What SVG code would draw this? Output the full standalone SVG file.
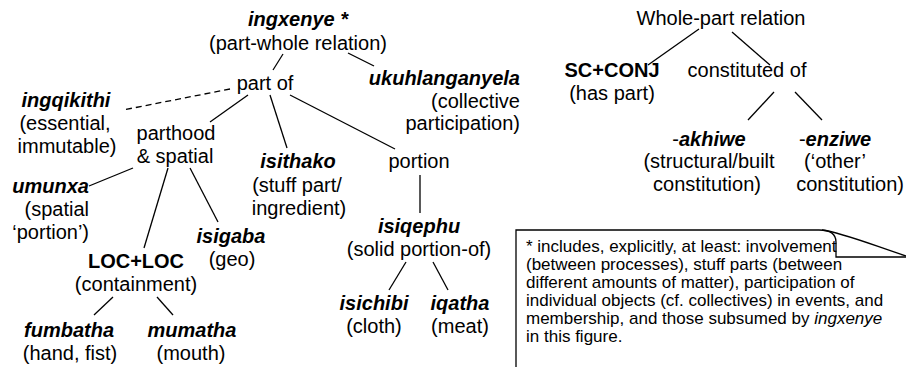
<svg xmlns="http://www.w3.org/2000/svg" width="906" height="367" viewBox="0 0 906 367">
<style>
text{font-family:"Liberation Sans",Arial,Helvetica,sans-serif;font-size:20px;fill:#000}
.c{text-anchor:middle}
.e{text-anchor:end}
.bi{font-weight:bold;font-style:italic}
.b{font-weight:bold}
.note{font-size:17px}
.ln{stroke:#000;stroke-width:1.3;fill:none}
.dash{stroke-dasharray:6 4}
</style>
<rect width="906" height="367" fill="#fff"/>
<g id="connectors">
<line class="ln" x1="283" y1="54" x2="273" y2="70"/>
<line class="ln" x1="348" y1="53" x2="374" y2="66"/>
<line class="ln dash" x1="230" y1="89" x2="123" y2="110"/>
<line class="ln" x1="248" y1="95" x2="210" y2="122"/>
<line class="ln" x1="270" y1="95" x2="287" y2="148"/>
<line class="ln" x1="290" y1="95" x2="395" y2="149"/>
<line class="ln" x1="420" y1="175" x2="420" y2="213"/>
<line class="ln" x1="133" y1="168" x2="89" y2="186"/>
<line class="ln" x1="168" y1="168" x2="144" y2="248"/>
<line class="ln" x1="190" y1="168" x2="218" y2="222"/>
<line class="ln" x1="113" y1="297" x2="94" y2="315"/>
<line class="ln" x1="157" y1="297" x2="173" y2="315"/>
<line class="ln" x1="406" y1="262" x2="389" y2="290"/>
<line class="ln" x1="433" y1="262" x2="448" y2="290"/>
<line class="ln" x1="699" y1="29" x2="648" y2="65"/>
<line class="ln" x1="732" y1="32" x2="770" y2="65"/>
<line class="ln" x1="774" y1="92" x2="748" y2="120"/>
<line class="ln" x1="795" y1="92" x2="822" y2="120"/>
</g>
<g id="ingxenye">
<text class="c bi" x="298" y="26">ingxenye *</text>
<text class="c" x="298" y="50">(part-whole relation)</text>
</g>
<g id="part-of"><text class="c" x="265" y="90">part of</text></g>
<g id="ukuhlanganyela">
<text class="e bi" x="520" y="85">ukuhlanganyela</text>
<text class="e" x="520" y="107.5">(collective</text>
<text class="e" x="520" y="130">participation)</text>
</g>
<g id="ingqikithi">
<text class="c bi" x="66" y="107">ingqikithi</text>
<text class="c" x="65" y="130">(essential,</text>
<text class="c" x="67" y="152.5">immutable)</text>
</g>
<g id="parthood">
<text class="c" x="176" y="140">parthood</text>
<text class="c" x="175" y="163">&amp; spatial</text>
</g>
<g id="isithako">
<text class="c bi" x="298" y="168">isithako</text>
<text class="c" x="297" y="191.5">(stuff part/</text>
<text class="c" x="299" y="214.5">ingredient)</text>
</g>
<g id="portion"><text class="c" x="419" y="168">portion</text></g>
<g id="umunxa">
<text class="e bi" x="89" y="193">umunxa</text>
<text class="e" x="89" y="216">(spatial</text>
<text class="e" x="89" y="239">‘portion’)</text>
</g>
<g id="loc-loc">
<text class="c b" x="136" y="268">LOC+LOC</text>
<text class="c" x="136" y="291">(containment)</text>
</g>
<g id="isigaba">
<text class="c bi" x="231" y="243">isigaba</text>
<text class="c" x="232" y="266">(geo)</text>
</g>
<g id="fumbatha">
<text class="c bi" x="69" y="337">fumbatha</text>
<text class="c" x="70" y="360">(hand, fist)</text>
</g>
<g id="mumatha">
<text class="c bi" x="192" y="337">mumatha</text>
<text class="c" x="191" y="360">(mouth)</text>
</g>
<g id="isiqephu">
<text class="c bi" x="419" y="233">isiqephu</text>
<text class="c" x="419" y="256">(solid portion-of)</text>
</g>
<g id="isichibi">
<text class="c bi" x="374" y="310">isichibi</text>
<text class="c" x="374" y="333">(cloth)</text>
</g>
<g id="iqatha">
<text class="c bi" x="460" y="310">iqatha</text>
<text class="c" x="460" y="333">(meat)</text>
</g>
<g id="whole-part">
<text class="c" x="721" y="25">Whole-part relation</text>
</g>
<g id="sc-conj">
<text class="c b" x="612" y="77">SC+CONJ</text>
<text class="c" x="612" y="100">(has part)</text>
</g>
<g id="constituted-of"><text class="c" x="747" y="77">constituted of</text></g>
<g id="akhiwe">
<text class="c" x="709" y="146">-<tspan class="bi">akhiwe</tspan></text>
<text class="c" x="709" y="168">(structural/built</text>
<text class="c" x="707" y="191">constitution)</text>
</g>
<g id="enziwe">
<text class="c" x="835" y="146">-<tspan class="bi">enziwe</tspan></text>
<text class="c" x="835" y="168">(‘other’</text>
<text class="e" x="904" y="191">constitution)</text>
</g>
<g id="note">
<path class="ln" d="M516,367 L516,230 L819,230 C830,230 836,234 836,242 L836,257 L906,257"/>
<path class="ln" d="M822,230 C840,232 870,244 906,256"/>
<text class="note" x="526" y="252">* includes, explicitly, at least: involvement</text>
<text class="note" x="526" y="270">(between processes), stuff parts (between</text>
<text class="note" x="526" y="288">different amounts of matter), participation of</text>
<text class="note" x="526" y="306">individual objects (cf. collectives) in events, and</text>
<text class="note" x="526" y="324">membership, and those subsumed by <tspan font-style="italic">ingxenye</tspan></text>
<text class="note" x="526" y="342">in this figure.</text>
</g>
</svg>
